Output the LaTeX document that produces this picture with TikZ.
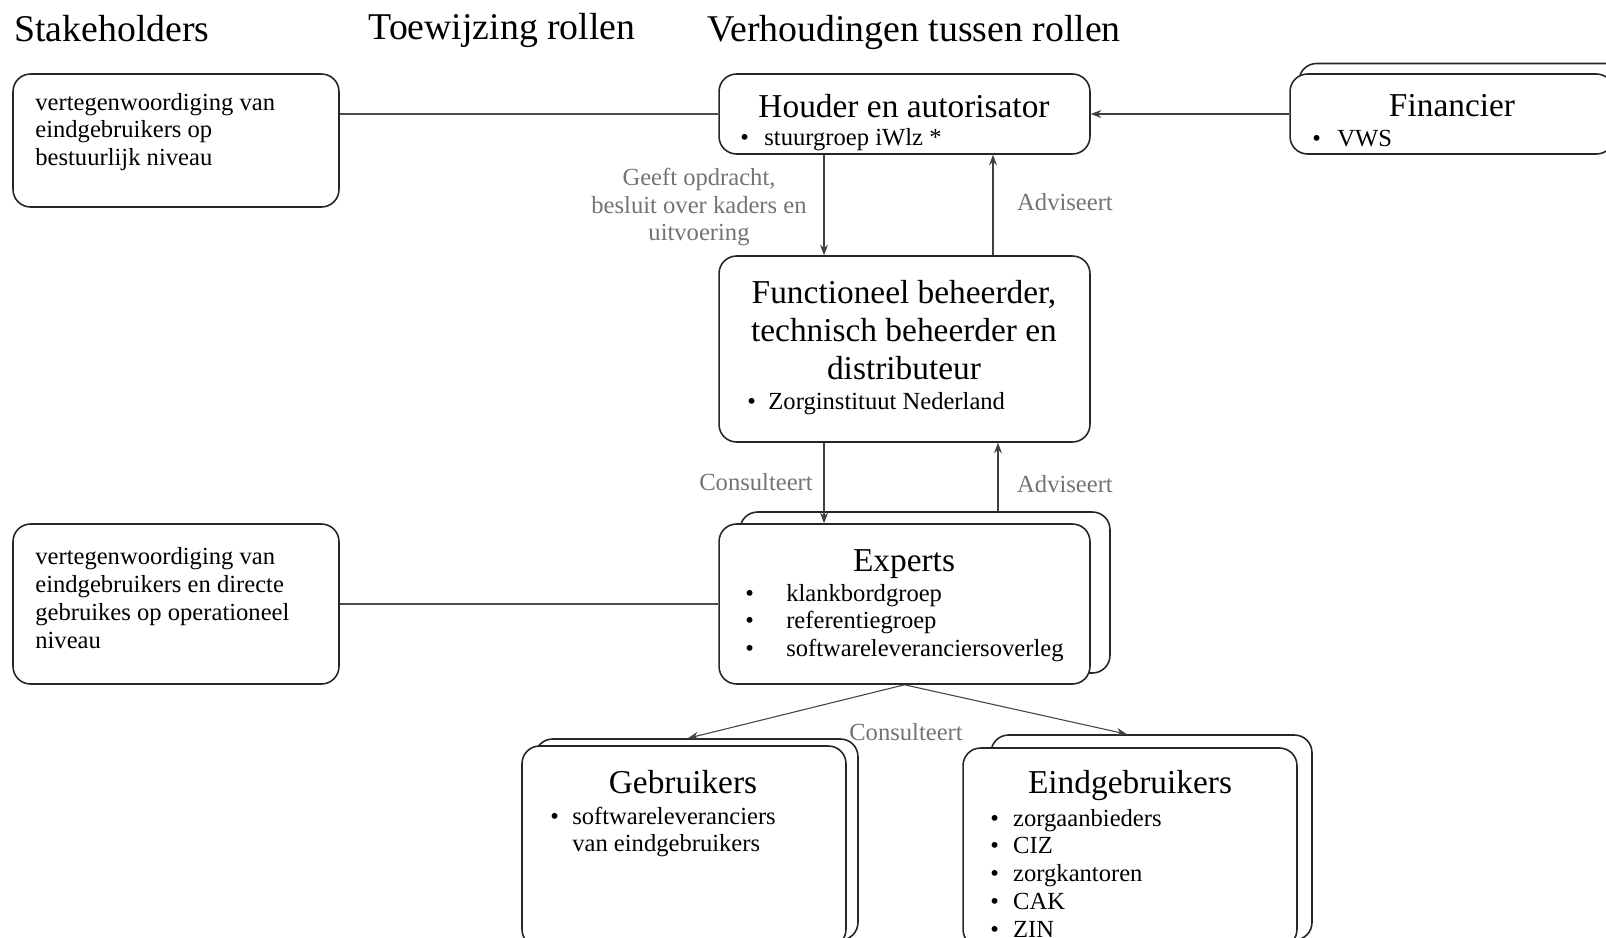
\documentclass[tikz,border=0pt]{standalone}
\usepackage{fontspec}
\setmainfont{Liberation Serif}
\usetikzlibrary{shapes.geometric, arrows, arrows.meta, positioning}
\tikzstyle{arrow} = [-{Stealth[length=6pt, width=4.5pt]}, line width=0.6pt, draw=black!75]
\tikzstyle{link} = [line width=0.8pt, draw=black!70]
\tikzstyle{block} = [rectangle, rounded corners=0.35cm, draw=black!85, line width=0.9pt, fill=white, inner sep=0pt]
\tikzstyle{head} = [font=\fontsize{21.5}{24}\selectfont, inner sep=0pt]
\tikzstyle{title} = [font=\fontsize{19}{21.6}\selectfont, align=center, inner sep=0pt]
\tikzstyle{item} = [font=\fontsize{14}{15.8}\selectfont, align=left, anchor=west, inner sep=0pt]
\tikzstyle{note} = [font=\fontsize{14}{15.7}\selectfont, align=center, text=black!55, inner sep=0pt]
\newcommand{\itm}[2][13pt]{\makebox[#1][l]{\textbullet}#2}

\begin{document}
\begin{tikzpicture}[x=0.02cm, y=-0.02cm]
	\useasboundingbox (0,0) rectangle (1606,937);
	\clip (0,0) rectangle (1606,937);
	% column heads
	\node(hstake) [head] at (112,29) {Stakeholders};
	\node(hrol) [head] at (502,30) {Toewijzing rollen};
	\node(hverh) [head] at (914,32) {Verhoudingen tussen rollen};
	% stakeholders
	\node(stake1) [block, minimum width=6.52cm, minimum height=2.66cm] at (176,140.5) {};
	\node(stake1t) [item] at (35,132) {vertegenwoordiging van\\eindgebruikers op\\bestuurlijk niveau};
	\node(stake2) [block, minimum width=6.52cm, minimum height=3.2cm] at (176,604) {};
	\node(stake2t) [item] at (35,598) {vertegenwoordiging van\\eindgebruikers en directe\\gebruikes op operationeel\\niveau};
	% roles
	\node(houder) [block, minimum width=7.42cm, minimum height=1.6cm] at (904.5,114) {};
	\node(houdert) [title] at (904,106) {Houder en autorisator};
	\node(houderi) [item] at (740,140) {\itm[13.7pt]{stuurgroep iWlz *}};
	\node(finb) [block, minimum width=6.62cm, minimum height=1.59cm] at (1464.5,103.25) {};
	\node(fin) [block, minimum width=6.48cm, minimum height=1.6cm] at (1452,114) {};
	\node(fint) [title] at (1452,105.5) {Financier};
	\node(fini) [item] at (1312,138.5) {\itm[14.2pt]{VWS}};
	\node(func) [block, minimum width=7.42cm, minimum height=3.72cm] at (904.5,349) {};
	\node(funct) [title] at (904,330) {Functioneel beheerder,\\technisch beheerder en\\distributeur};
	\node(funci) [item] at (747,403.5) {\itm[12pt]{Zorginstituut Nederland}};
	\node(expb) [block, minimum width=7.4cm, minimum height=3.22cm] at (925,592.5) {};
	\node(expf) [block, minimum width=7.42cm, minimum height=3.2cm] at (904.5,604) {};
	\node(expt) [title] at (904,564) {Experts};
	\node(expi) [item] at (745,623) {\itm[23.3pt]{klankbordgroep}\\\itm[23.3pt]{referentiegroep}\\\itm[23.3pt]{softwareleveranciersoverleg}};
	\node(gebb) [block, minimum width=6.46cm, minimum height=4.02cm] at (696.5,839.5) {};
	\node(gebf) [block, minimum width=6.48cm, minimum height=4.02cm] at (684,846.5) {};
	\node(gebt) [title] at (683,782.5) {Gebruikers};
	\node(gebi) [item] at (550,832) {\itm[12.5pt]{softwareleveranciers}\\\hspace*{12.5pt}van eindgebruikers};
	\node(eindb) [block, minimum width=6.42cm, minimum height=4.1cm] at (1151.5,837.5) {};
	\node(eindf) [block, minimum width=6.68cm, minimum height=3.98cm] at (1130,847.5) {};
	\node(eindt) [title] at (1130,786) {Eindgebruikers};
	\node(eindi) [item] at (990,873) {\itm{zorgaanbieders}\\\itm{CIZ}\\\itm{zorgkantoren}\\\itm{CAK}\\\itm{ZIN}};
	% labels
	\node(lopdr) [note] at (699,207) {Geeft opdracht,\\besluit over kaders en\\uitvoering};
	\node(ladv1) [note] at (1065,202) {Adviseert};
	\node(lcons1) [note] at (756,482) {Consulteert};
	\node(ladv2) [note] at (1065,484) {Adviseert};
	\node(lcons2) [note] at (906,732) {Consulteert};
	% connectors
	\draw [link] (stake1.east |- houder.west) -- (houder.west);
	\draw [link] (stake2.east) -- (expf.west);
	\draw [arrow] (fin.west) -- (houder.east);
	\draw [arrow] ([xshift=-1.61cm]houder.south) -- ([xshift=-1.61cm]func.north);
	\draw [arrow] ([xshift=1.77cm]func.north) -- ([xshift=1.77cm]houder.south);
	\draw [arrow] ([xshift=-1.61cm]func.south) -- ([xshift=-1.61cm]expf.north);
	\draw [arrow] ([xshift=1.46cm]expb.north) -- ([xshift=1.46cm]expb.north |- func.south);
	\draw [arrow] (expf.south) -- ([xshift=-0.17cm]gebb.north);
	\draw [arrow] (expf.south) -- ([xshift=-0.49cm]eindb.north);
\end{tikzpicture}
\end{document}
